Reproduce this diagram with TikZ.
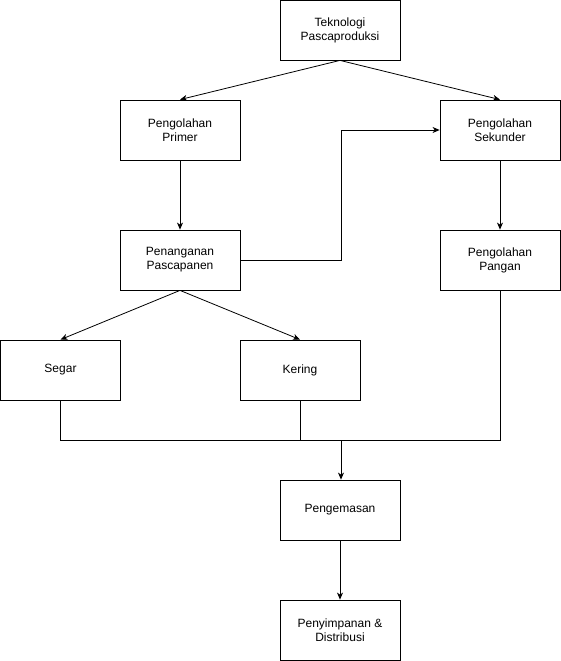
\documentclass[tikz,border=0pt]{standalone}
\usepackage{fontspec}
\setmainfont{Liberation Sans}
\usetikzlibrary{arrows.meta}
\begin{document}
\begin{tikzpicture}[x=1pt,y=-1pt,
  box/.style={draw,line width=0.8pt,minimum width=120pt,minimum height=60pt,align=center,inner sep=0pt,font=\fontsize{12}{14}\selectfont},
  conn/.style={line width=0.8pt,-{Stealth[length=7pt,width=6pt,inset=2pt]}},
  plain/.style={line width=0.8pt}]
\useasboundingbox (0,0) rectangle (561,661);
\node[box] (tek) at (340,30) {Teknologi\\Pascaproduksi};
\node[box] (pri) at (180,130) {Pengolahan\\Primer};
\node[box] (sek) at (500,130) {Pengolahan\\Sekunder};
\node[box] (pen) at (180,260) {Penanganan\\Pascapanen};
\node[box] (pan) at (500,260) {Pengolahan\\Pangan};
\node[box] (seg) at (60.5,370) {Segar};
\node[box] (ker) at (300,370) {Kering};
\node[box] (kem) at (340,510) {Pengemasan};
\node[box] (sim) at (340,630) {Penyimpanan \&\\Distribusi};
\coordinate (j) at (341,440);
\draw[conn] (tek.south) -- (pri.north);
\draw[conn] (tek.south) -- (sek.north);
\draw[conn] (pri) -- (pen);
\draw[conn] (pen.east) -- (341,260) -- (341,130) -- (sek.west);
\draw[conn] (sek) -- (pan);
\draw[conn] (pen.south) -- (seg.north);
\draw[conn] (pen.south) -- (ker.north);
\draw[plain] (seg.south) |- (j);
\draw[plain] (ker.south) |- (j);
\draw[plain] (pan.south) |- (j);
\draw[conn] (j) -- (kem.north -| j);
\draw[conn] (kem) -- (sim);
\end{tikzpicture}
\end{document}
